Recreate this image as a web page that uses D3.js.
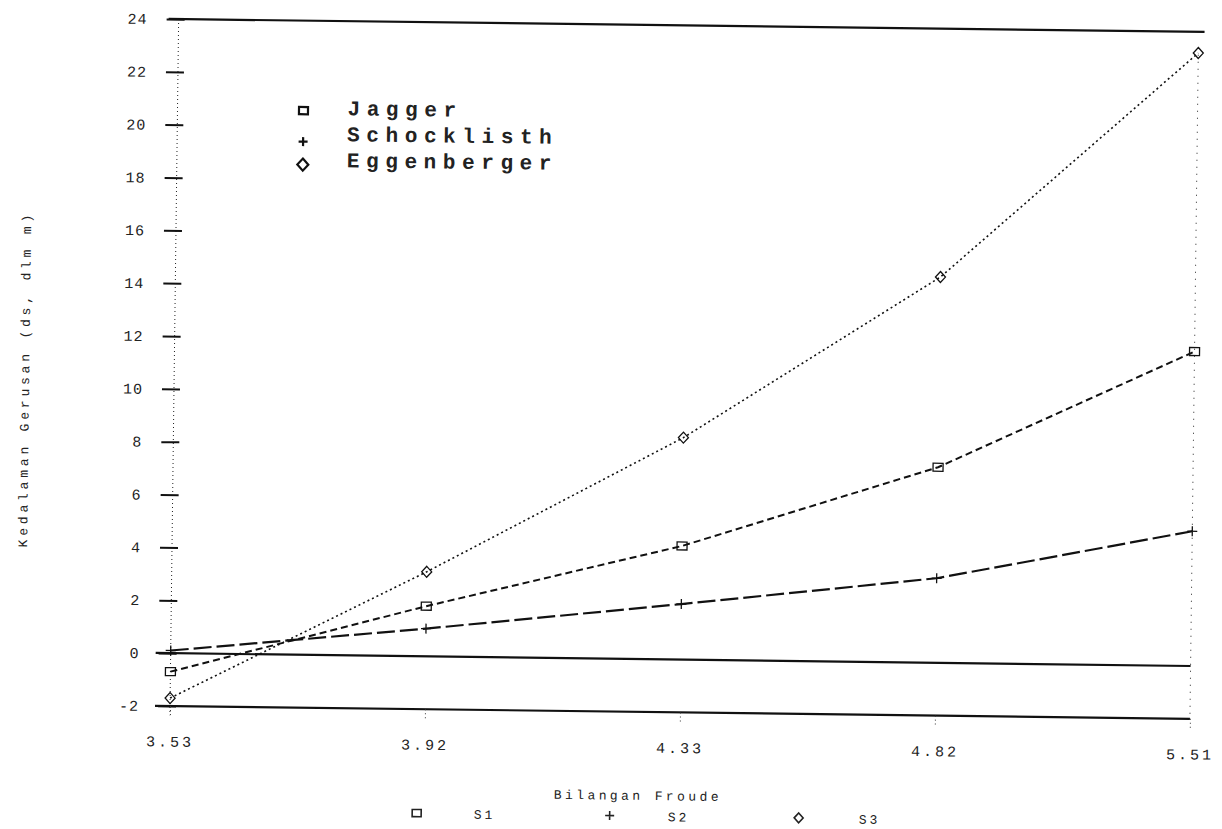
<!DOCTYPE html>
<html>
<head>
<meta charset="utf-8">
<script src="https://cdn.jsdelivr.net/npm/d3@7"></script>
<style>
  html, body { margin: 0; padding: 0; background: #fff; }
  svg { display: block; }
  text { font-family: "Liberation Mono", "DejaVu Sans Mono", monospace; fill: #222; }
</style>
</head>
<body>
<svg id="chart" width="1222" height="829"></svg>
<script>
// Froude number categories along the x axis
const categories = ["3.53", "3.92", "4.33", "4.82", "5.51"];

// Scour depth per formula (m)
const jagger      = [-0.7, 1.9, 4.3, 7.4, 11.9];
const schocklisth = [0.1, 1.05, 2.1, 3.2, 5.1];
const eggenberger = [-1.7, 3.2, 8.4, 14.6, 23.2];

const seriesNames = ["Jagger", "Schocklisth", "Eggenberger"];
const seriesCodes = ["S1", "S2", "S3"];
const yTicks = [-2, 0, 2, 4, 6, 8, 10, 12, 14, 16, 18, 20, 22, 24];
const refLevels = [24, 0, -2];
const xTitle = "Bilangan Froude";
const yTitle = "Kedalaman Gerusan (ds, dlm m)";

const X0 = 170, X1 = 1190, YTOP = 19, YBOT = 706;

const svg = d3.select("#chart");
// the whole sheet sits slightly tilted
const g = svg.append("g").attr("transform", `rotate(0.72, ${X0}, ${YBOT})`);

const x = d3.scalePoint().domain(categories).range([X0, X1]);
const y = d3.scaleLinear().domain([-2, 24]).range([YBOT, YTOP]);

// dotted frame verticals
g.append("line").attr("x1", X0).attr("x2", X0).attr("y1", y(24)).attr("y2", y(-2.35))
  .attr("stroke", "#222").attr("stroke-width", 1).attr("stroke-dasharray", "1,3");
g.append("line").attr("x1", X1).attr("x2", X1).attr("y1", y(23.4)).attr("y2", y(-2))
  .attr("stroke", "#222").attr("stroke-width", 1).attr("stroke-dasharray", "1,6");

// solid horizontal levels
refLevels.forEach(v => {
  g.append("line")
    .attr("x1", v === 24 ? X0 - 10 : X0 - 15).attr("x2", v === 24 ? X1 + 6 : X1)
    .attr("y1", y(v)).attr("y2", y(v))
    .attr("stroke", "#111").attr("stroke-width", 2.2);
});

// y axis
const yAxis = d3.axisLeft(y).tickValues(yTicks).tickSize(18).tickPadding(19)
  .tickFormat(d => String(d));
const ya = g.append("g").attr("transform", `translate(${X0 + 6},0)`).call(yAxis);
ya.select(".domain").remove();
ya.selectAll(".tick line").attr("stroke", "#111").attr("stroke-width", 2);
ya.selectAll(".tick text").style("font-size", "15px").style("letter-spacing", "1px")
  .attr("fill", "#333");

// x axis
const xAxis = d3.axisBottom(x).tickSize(9).tickPadding(21);
const xa = g.append("g").attr("transform", `translate(0,${YBOT})`).call(xAxis);
xa.select(".domain").remove();
xa.selectAll(".tick line").attr("stroke", "#333").attr("stroke-width", 1).attr("stroke-dasharray", "1,3");
xa.selectAll(".tick text").style("font-size", "15px").style("letter-spacing", "3px")
  .attr("fill", "#333");

// series
const series = [
  { name: seriesNames[0], code: seriesCodes[0], values: jagger,      dash: "7,4",  width: 2.0, sym: "square" },
  { name: seriesNames[1], code: seriesCodes[1], values: schocklisth, dash: "18,5", width: 2.2, sym: "plus" },
  { name: seriesNames[2], code: seriesCodes[2], values: eggenberger, dash: "2,3",  width: 1.6, sym: "diamond" }
];

function symPath(kind, s) {
  const h = s / 2;
  if (kind === "square") return `M${-h},${-h * 0.8}H${h}V${h * 0.8}H${-h}Z`;
  if (kind === "plus") return `M${-h},0H${h}M0,${-h}V${h}`;
  return `M0,${-h * 1.1}L${h},0L0,${h * 1.1}L${-h},0Z`;
}

const line = d3.line().x((d, i) => x(categories[i])).y(d => y(d));

series.forEach(s => {
  g.append("path").datum(s.values).attr("d", line)
    .attr("fill", "none").attr("stroke", "#111")
    .attr("stroke-width", s.width).attr("stroke-dasharray", s.dash);
  g.selectAll(null).data(s.values).enter().append("path")
    .attr("transform", (d, i) => `translate(${x(categories[i])},${y(d)})`)
    .attr("d", symPath(s.sym, 10))
    .attr("fill", "none").attr("stroke", "#111").attr("stroke-width", 1.3);
});

// legend inside the plot
const legendBase = [113, 139, 165];
const symOffset = { square: -4, plus: 1, diamond: -2 };
series.forEach((s, i) => {
  g.append("path")
    .attr("transform", `translate(296,${legendBase[i] + symOffset[s.sym]})`)
    .attr("d", symPath(s.sym, s.sym === "diamond" ? 11 : 9))
    .attr("fill", "none").attr("stroke", "#111").attr("stroke-width", 2.2);
  g.append("text").attr("x", 340).attr("y", legendBase[i])
    .style("font-size", "21px").style("font-weight", "bold").style("letter-spacing", "6.6px")
    .attr("fill", "#111").text(s.name);
});

// axis titles
g.append("text").attr("x", 639).attr("y", 794).attr("text-anchor", "middle")
  .style("font-size", "13px").style("letter-spacing", "3.4px").text(xTitle);
g.append("text").attr("transform", "translate(25,381) rotate(-90)").attr("text-anchor", "middle")
  .style("font-size", "13px").style("letter-spacing", "3.8px").text(yTitle);

// bottom code legend
const codeSym = [418, 611, 800];
const codeText = [486, 680, 871];
series.forEach((s, i) => {
  g.append("path").attr("transform", `translate(${codeSym[i]},810)`)
    .attr("d", symPath(s.sym, 9))
    .attr("fill", "none").attr("stroke", "#222").attr("stroke-width", 1.6);
  g.append("text").attr("x", codeText[i]).attr("y", 815).attr("text-anchor", "middle")
    .style("font-size", "13px").style("letter-spacing", "3px").text(s.code);
});
</script>
</body>
</html>
